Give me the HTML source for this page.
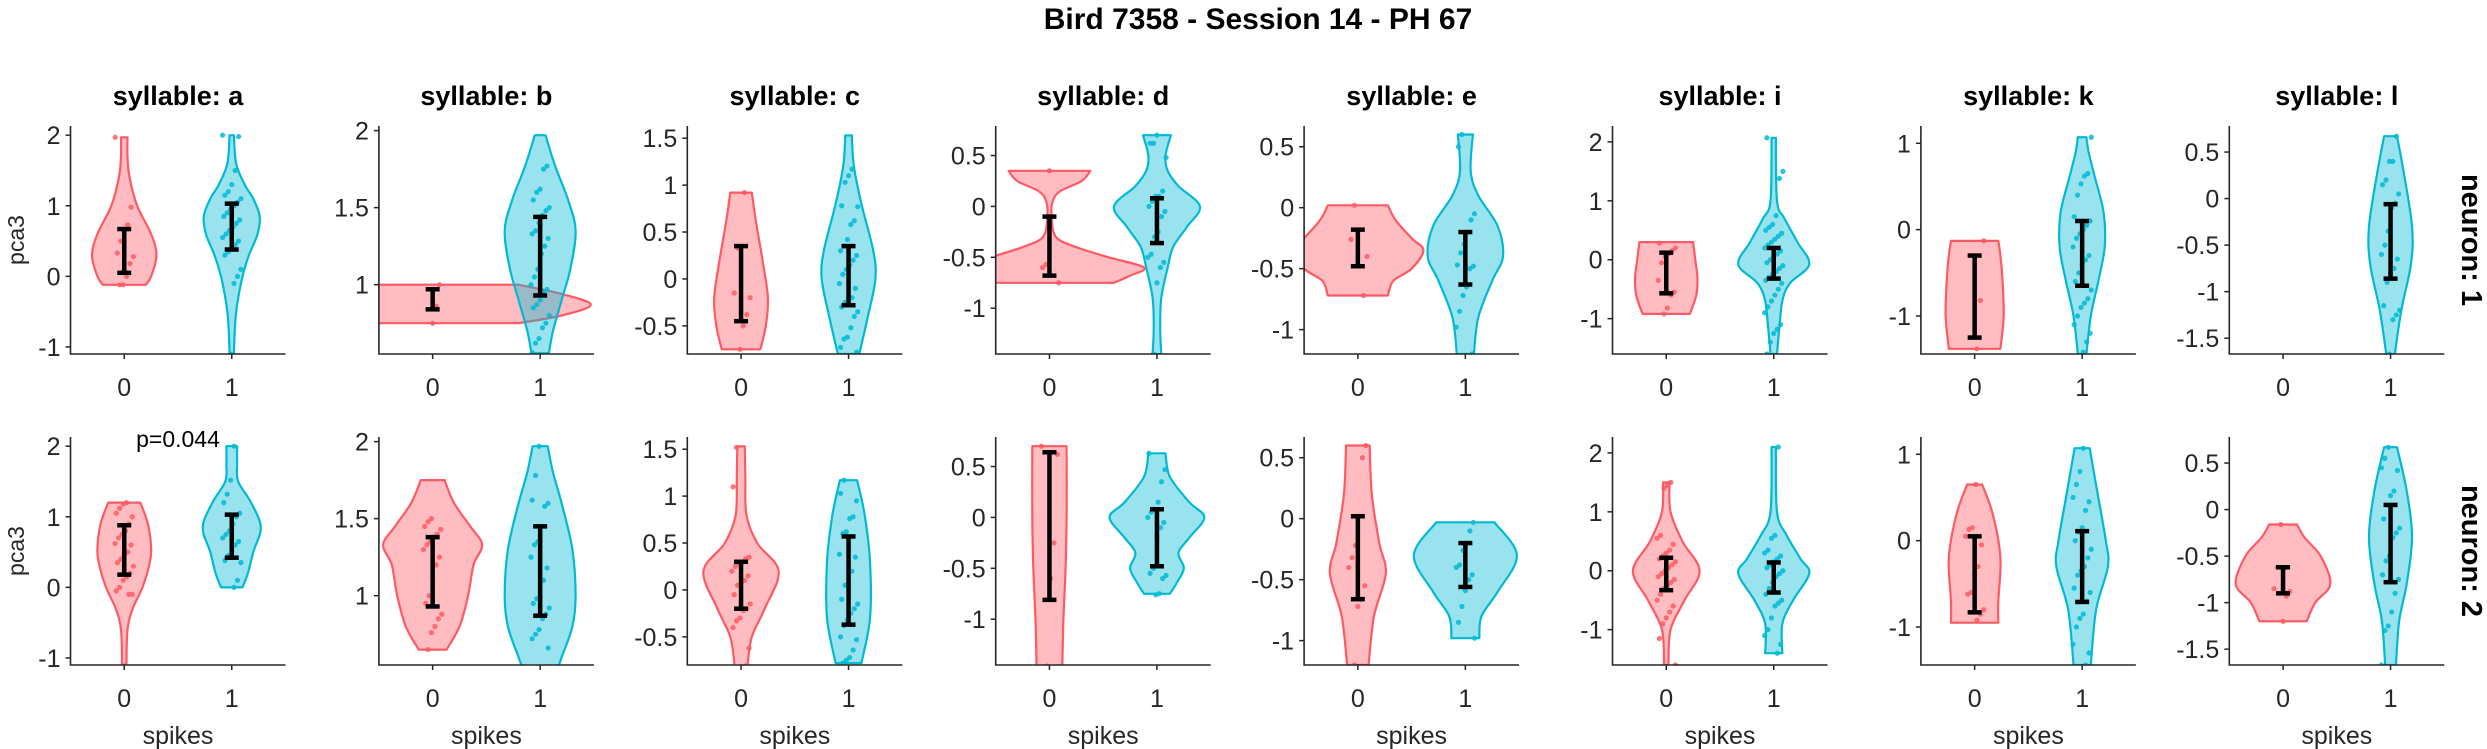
<!DOCTYPE html>
<html><head><meta charset="utf-8"><style>
html,body{margin:0;padding:0;background:#fff;}
svg{display:block;}
text{font-family:"Liberation Sans",Arial,sans-serif;fill:#262626;}
</style></head>
<body>
<svg id="fig" width="2487" height="749" viewBox="0 0 2487 749" xmlns="http://www.w3.org/2000/svg">
<text x="1258" y="29" text-anchor="middle" font-size="30" font-weight="bold" style="fill:#000">Bird 7358 - Session 14 - PH 67</text>
</svg>
<script>
const syllables = ['a','b','c','d','e','i','k','l'];
const neurons = ['1','2'];
const yLims = [[-1.1,2.13],[0.55,2.03],[-0.8,1.63],[-1.45,0.79],[-1.2,0.67],[-1.6,2.27],[-1.44,1.2],[-1.67,0.78]];
const yTicks = [[-1,0,1,2],[1,1.5,2],[-0.5,0,0.5,1,1.5],[-1,-0.5,0,0.5],[-1,-0.5,0,0.5],[-1,0,1,2],[-1,0,1],[-1.5,-1,-0.5,0,0.5]];
const xTickLabels = ['0','1'];
// density profiles: [value, half-width in x units]
const redProfiles = [
 [[-0.12,0.2],[0,0.25],[0.3,0.3],[0.6,0.25],[1.0,0.12],[1.4,0.05],[1.7,0.03],[1.97,0.03]],
 [[0.75,0.8],[0.8,1.2],[0.87,1.47],[0.94,1.2],[1.0,0.8]],
 [[-0.75,0.18],[-0.5,0.23],[-0.2,0.25],[0.2,0.2],[0.6,0.14],[0.92,0.1]],
 [[-0.75,0.6],[-0.68,0.75],[-0.6,0.88],[-0.5,0.55],[-0.4,0.25],[-0.3,0.06],[-0.1,0.02],[0.05,0.03],[0.15,0.1],[0.25,0.3],[0.35,0.38]],
 [[-0.72,0.28],[-0.6,0.33],[-0.5,0.5],[-0.35,0.61],[-0.25,0.5],[-0.1,0.35],[0.02,0.28]],
 [[-0.92,0.22],[-0.6,0.28],[-0.3,0.29],[0,0.27],[0.3,0.25]],
 [[-1.38,0.24],[-1.0,0.27],[-0.6,0.26],[-0.3,0.24],[-0.13,0.22]],
 null,
 [[-1.11,0.02],[-0.6,0.03],[-0.3,0.08],[0,0.17],[0.3,0.23],[0.55,0.25],[0.9,0.22],[1.2,0.15]],
 [[0.65,0.13],[0.8,0.25],[1.0,0.33],[1.2,0.38],[1.33,0.46],[1.45,0.35],[1.6,0.2],[1.75,0.11]],
 [[-0.81,0.06],[-0.5,0.1],[-0.2,0.22],[0.2,0.35],[0.5,0.15],[0.8,0.05],[1.2,0.04],[1.53,0.035]],
 [[-1.46,0.12],[-1.0,0.13],[-0.5,0.15],[0,0.16],[0.7,0.16]],
 [[-1.2,0.1],[-0.8,0.15],[-0.45,0.26],[-0.2,0.2],[0.2,0.13],[0.6,0.11]],
 [[-1.6,0.02],[-1.0,0.04],[-0.5,0.17],[0,0.31],[0.5,0.15],[1.0,0.04],[1.5,0.03]],
 [[-0.95,0.22],[-0.7,0.22],[-0.2,0.24],[0.3,0.17],[0.65,0.07]],
 [[-1.2,0.22],[-1.0,0.3],[-0.8,0.44],[-0.5,0.35],[-0.3,0.2],[-0.16,0.13]]
];
const cyanProfiles = [
 [[-1.1,0.02],[-0.7,0.03],[-0.4,0.05],[0,0.1],[0.3,0.16],[0.6,0.24],[0.85,0.26],[1.1,0.2],[1.3,0.12],[1.6,0.04],[2.0,0.02]],
 [[0.555,0.08],[0.7,0.12],[0.9,0.2],[1.1,0.28],[1.35,0.33],[1.55,0.26],[1.75,0.15],[1.9,0.08],[1.97,0.05]],
 [[-0.8,0.1],[-0.4,0.18],[0,0.25],[0.3,0.23],[0.8,0.12],[1.2,0.05],[1.53,0.03]],
 [[-1.45,0.04],[-1.2,0.03],[-0.9,0.04],[-0.6,0.1],[-0.4,0.15],[-0.2,0.28],[0,0.4],[0.2,0.2],[0.35,0.1],[0.5,0.08],[0.7,0.13]],
 [[-1.2,0.08],[-0.9,0.12],[-0.6,0.25],[-0.4,0.35],[-0.15,0.3],[0.1,0.12],[0.3,0.05],[0.6,0.07]],
 [[-1.6,0.03],[-1.2,0.05],[-0.7,0.08],[-0.4,0.15],[-0.08,0.33],[0.3,0.22],[0.7,0.1],[1.0,0.03],[2.07,0.02]],
 [[-1.44,0.04],[-1.0,0.08],[-0.6,0.15],[-0.2,0.21],[0.2,0.2],[0.6,0.12],[0.9,0.06],[1.07,0.04]],
 [[-1.67,0.04],[-1.2,0.1],[-0.7,0.19],[-0.3,0.2],[0.3,0.12],[0.67,0.06]],
 [[0,0.1],[0.2,0.15],[0.5,0.2],[0.85,0.27],[1.2,0.18],[1.5,0.06],[1.75,0.05],[2.0,0.05]],
 [[0.54,0.17],[0.6,0.2],[0.8,0.3],[1.0,0.33],[1.3,0.3],[1.6,0.2],[1.8,0.12],[1.97,0.07]],
 [[-0.78,0.12],[-0.3,0.2],[0.3,0.2],[0.8,0.15],[1.17,0.08]],
 [[-0.75,0.12],[-0.65,0.18],[-0.5,0.25],[-0.35,0.2],[-0.2,0.3],[0,0.44],[0.15,0.3],[0.4,0.12],[0.63,0.08]],
 [[-0.98,0.13],[-0.8,0.15],[-0.6,0.3],[-0.3,0.48],[-0.03,0.27]],
 [[-1.4,0.08],[-0.9,0.08],[-0.5,0.18],[-0.05,0.33],[0.2,0.25],[0.6,0.12],[1.0,0.03],[2.1,0.02]],
 [[-1.44,0.08],[-0.8,0.13],[-0.3,0.24],[0,0.22],[0.5,0.15],[1.07,0.07]],
 [[-1.67,0.05],[-1.2,0.08],[-0.8,0.15],[-0.3,0.2],[0.2,0.15],[0.67,0.06]]
];
const redErr = [[0.05,0.67],[0.84,0.97],[-0.45,0.35],[-0.68,-0.1],[-0.48,-0.18],[-0.57,0.12],[-1.25,-0.3],null,
 [0.18,0.88],[0.93,1.38],[-0.2,0.3],[-0.81,0.64],[-0.66,0.02],[-0.33,0.22],[-0.83,0.05],[-0.9,-0.62]];
const cyanErr = [[0.38,1.03],[0.93,1.44],[-0.28,0.35],[-0.36,0.08],[-0.63,-0.2],[-0.32,0.2],[-0.65,0.1],[-0.86,-0.06],
 [0.42,1.03],[0.87,1.45],[-0.37,0.57],[-0.48,0.08],[-0.56,-0.2],[-0.37,0.14],[-0.71,0.11],[-0.78,0.05]];
const redDots = [
 [1.97,0.98,0.73,0.5,0.5,0.33,0.28,0.18,0.0,-0.12,-0.12],
 [1.0,0.86,0.75],
 [0.92,0.35,0.33,-0.15,-0.2,-0.38,-0.5,-0.75],
 [0.35,-0.57,-0.6,-0.75],
 [0.02,-0.26,-0.4,-0.72],
 [0.28,0.2,0.15,0.1,0.05,-0.05,-0.35,-0.55,-0.6,-0.82,-0.92],
 [-0.13,-0.82,-1.38],
 [],
 [1.2,1.18,1.12,1.05,1.0,0.9,0.8,0.75,0.7,0.62,0.6,0.5,0.45,0.4,0.35,0.3,0.2,0.15,0.1,0.0,-0.05,-0.1,-0.1,-1.11],
 [1.5,1.48,1.45,1.43,1.4,1.38,1.35,1.33,1.3,1.25,1.2,1.12,1.0,0.95,0.88,0.85,0.8,0.76,0.65],
 [1.52,1.1,0.35,0.33,0.3,0.28,0.25,0.2,0.15,0.1,0.07,0.05,-0.05,-0.15,-0.2,-0.22,-0.3,-0.33,-0.4,-0.62,-0.81],
 [0.7,0.62,-0.25,-0.6,-1.46],
 [0.6,0.5,0.02,-0.22,-0.32,-0.4,-0.55,-0.66,-0.72,-1.2],
 [1.5,1.45,1.4,0.6,0.55,0.45,0.35,0.3,0.25,0.2,0.15,0.1,0.05,0,-0.05,-0.1,-0.15,-0.2,-0.25,-0.3,-0.4,-0.5,-0.6,-0.7,-0.8,-0.9,-1.15,-1.6],
 [0.65,0.15,0.13,0.05,-0.05,-0.3,-0.4,-0.6,-0.62,-0.8,-0.85,-0.92],
 [-0.16,-0.62,-0.85,-0.88,-0.93,-1.2]
];
const cyanDots = [
 [2.0,1.98,1.5,1.3,1.2,1.15,1.1,1.05,1.0,0.95,0.9,0.85,0.8,0.75,0.7,0.65,0.6,0.55,0.5,0.45,0.4,0.35,0.3,0.1,0.0,-0.1,-1.1],
 [1.77,1.75,1.62,1.6,1.55,1.5,1.48,1.45,1.4,1.35,1.33,1.3,1.25,1.2,1.1,1.05,1.0,0.97,0.95,0.9,0.87,0.85,0.8,0.75,0.72,0.65,0.62,0.56],
 [1.17,1.1,1.03,0.78,0.77,0.62,0.58,0.42,0.35,0.3,0.25,0.2,0.15,0.1,0.05,-0.05,-0.1,-0.2,-0.2,-0.25,-0.3,-0.35,-0.4,-0.52,-0.62,-0.64,-0.73,-0.78],
 [0.7,0.62,0.62,0.48,0.15,0.1,0.1,0.05,0,-0.05,-0.1,-0.25,-0.3,-0.47,-0.5,-0.55,-0.6,-0.75,-1.45],
 [0.6,0.5,-0.05,-0.1,-0.2,-0.3,-0.37,-0.47,-0.48,-0.5,-0.65,-0.72,-0.85,-0.98,-1.2],
 [2.07,1.5,1.38,0.75,0.6,0.55,0.5,0.45,0.4,0.35,0.3,0.25,0.2,0.15,0.1,0.05,0,-0.05,-0.1,-0.15,-0.2,-0.25,-0.3,-0.35,-0.4,-0.5,-0.6,-0.7,-0.8,-0.9,-1.1,-1.18,-1.25,-1.4,-1.6],
 [1.07,0.65,0.62,0.53,0.4,0.15,0.1,0.05,0,-0.05,-0.1,-0.2,-0.3,-0.35,-0.4,-0.5,-0.6,-0.7,-0.8,-0.85,-0.9,-1.0,-1.1,-1.2,-1.3,-1.42],
 [0.67,0.4,0.4,0.2,0.15,0.05,-0.05,-0.1,-0.35,-0.5,-0.6,-0.65,-0.75,-0.8,-0.9,-1.15,-1.2,-1.25,-1.3,-1.67],
 [2.0,1.52,1.32,1.2,1.05,1.0,0.9,0.8,0.75,0.7,0.65,0.6,0.5,0.45,0.38,0.35,0.1,0.0],
 [1.97,1.78,1.62,1.6,1.58,1.45,1.35,1.33,1.25,1.18,1.1,1.0,0.98,0.95,0.92,0.88,0.85,0.78,0.75,0.72,0.66,0.54],
 [1.17,1.03,0.95,0.78,0.76,0.62,0.6,0.38,0.35,0.2,0.08,0.05,-0.1,-0.15,-0.2,-0.25,-0.32,-0.38,-0.5,-0.53,-0.64,-0.72,-0.75,-0.78],
 [0.63,0.47,0.35,0.15,0.08,0.05,0,-0.05,-0.1,-0.2,-0.5,-0.55,-0.57,-0.6,-0.75,-0.76],
 [-0.03,-0.1,-0.2,-0.26,-0.38,-0.4,-0.46,-0.5,-0.59,-0.72,-0.85,-0.98],
 [2.1,0.6,0.55,0.35,0.3,0.25,0.2,0.15,0.1,0.05,0,-0.05,-0.1,-0.2,-0.3,-0.4,-0.5,-0.55,-0.6,-0.8,-1.0,-1.1,-1.25,-1.4],
 [1.07,0.8,0.65,0.5,0.45,0.35,0.15,0.1,0,-0.1,-0.2,-0.3,-0.35,-0.4,-0.55,-0.6,-0.7,-0.85,-0.9,-1.0,-1.2,-1.3,-1.44],
 [0.67,0.55,0.45,0.42,0.2,0.15,0.05,-0.1,-0.2,-0.25,-0.3,-0.5,-0.55,-0.7,-0.75,-0.9,-1.1,-1.25,-1.3,-1.67]
];
const pValueText = 'p=0.044';

const NS = 'http://www.w3.org/2000/svg';
const svg = document.getElementById('fig');
const AX_LEFT0 = 70.5, AX_PITCH = 308.4, AX_W = 215, AX_H = 228;
const ROW_TOP = [126, 437];
const RED = '#FF5A64', CYAN = '#00BAD4', AXC = '#262626';
function mk(tag, attrs, parent) {
  const e = document.createElementNS(NS, tag);
  for (const k in attrs) e.setAttribute(k, attrs[k]);
  (parent || svg).appendChild(e);
  return e;
}
function catmull(pts) {
  let d = '';
  for (let i = 0; i < pts.length - 1; i++) {
    const p0 = pts[Math.max(i - 1, 0)], p1 = pts[i], p2 = pts[i + 1], p3 = pts[Math.min(i + 2, pts.length - 1)];
    const c1 = [p1[0] + (p2[0] - p0[0]) / 6, p1[1] + (p2[1] - p0[1]) / 6];
    const c2 = [p2[0] - (p3[0] - p1[0]) / 6, p2[1] - (p3[1] - p1[1]) / 6];
    d += ` C${c1[0].toFixed(1)},${c1[1].toFixed(1)} ${c2[0].toFixed(1)},${c2[1].toFixed(1)} ${p2[0].toFixed(1)},${p2[1].toFixed(1)}`;
  }
  return d;
}
function violinPath(profile, xs, ys, cx) {
  const right = profile.map(p => [xs(cx + p[1]), ys(p[0])]);
  const left = profile.slice().reverse().map(p => [xs(cx - p[1]), ys(p[0])]);
  let d = `M${right[0][0].toFixed(1)},${right[0][1].toFixed(1)}` + catmull(right);
  d += ` L${left[0][0].toFixed(1)},${left[0][1].toFixed(1)}` + catmull(left) + ' Z';
  return d;
}

for (let r = 0; r < 2; r++) {
  for (let c = 0; c < 8; c++) {
    const idx = r * 8 + c;
    const L = AX_LEFT0 + c * AX_PITCH, T = ROW_TOP[r], B = T + AX_H;
    const lim = yLims[c];
    const xs = v => L + (v + 0.5) * (AX_W / 2);
    const ys = v => B - (v - lim[0]) / (lim[1] - lim[0]) * AX_H;
    const g = mk('g', {});
    
    
    const cp = mk('clipPath', {id: 'clip' + idx}, g);
    mk('rect', {x: L, y: T, width: AX_W, height: AX_H}, cp);
    const plot = mk('g', {'clip-path': `url(#clip${idx})`}, g);
    const groups = [[redProfiles[idx], RED, 0, redDots[idx], redErr[idx], 'spikes-0'], [cyanProfiles[idx], CYAN, 1, cyanDots[idx], cyanErr[idx], 'spikes-1']];
    groups.forEach(([prof, col, cx, dots, err, nm]) => {
      if (!prof) return;
      const v = mk('path', {d: violinPath(prof, xs, ys, cx), fill: col, 'fill-opacity': 0.4, stroke: col, 'stroke-width': 2.2, 'stroke-linejoin': 'round'}, plot);
      
      
    });
    groups.forEach(([prof, col, cx, dots, err, nm]) => {
      if (!dots) return;
      dots.forEach((val, i) => {
        const jit = (((i * 7919 + idx * 31) % 17) / 16 - 0.5) * 0.17;
        const d = mk('circle', {cx: xs(cx + jit), cy: ys(val), r: 2.6, fill: col, 'fill-opacity': 0.85}, plot);
        
        
      });
    });
    groups.forEach(([prof, col, cx, dots, err, nm]) => {
      if (!err) return;
      const eg = mk('g', {stroke: '#000', 'stroke-width': 4.5, fill: 'none'}, g);
      
      
      const x = xs(cx);
      mk('line', {x1: x, x2: x, y1: ys(err[0]), y2: ys(err[1])}, eg);
      mk('line', {x1: x - 7, x2: x + 7, y1: ys(err[0]), y2: ys(err[0])}, eg);
      mk('line', {x1: x - 7, x2: x + 7, y1: ys(err[1]), y2: ys(err[1])}, eg);
    });
    // axes
    const ax = mk('path', {d: `M${L},${T} L${L},${B} L${L + AX_W},${B}`, stroke: AXC, 'stroke-width': 1.6, fill: 'none'}, g);
    
    
    yTicks[c].forEach(t => {
      const y = ys(t);
      mk('line', {x1: L - 5, x2: L, y1: y, y2: y, stroke: AXC, 'stroke-width': 1.5}, g);
      const tl = mk('text', {x: L - 10, y: y + 9, 'text-anchor': 'end', 'font-size': 25}, g);
      tl.textContent = String(t);
      
      
    });
    xTickLabels.forEach((lab, i) => {
      const x = xs(i);
      mk('line', {x1: x, x2: x, y1: B, y2: B + 5, stroke: AXC, 'stroke-width': 1.5}, g);
      const tl = mk('text', {x: x, y: B + 42, 'text-anchor': 'middle', 'font-size': 25}, g);
      tl.textContent = lab;
      
      
    });
    if (r === 0) {
      const st = mk('text', {x: L + AX_W / 2, y: 105, 'text-anchor': 'middle', 'font-size': 27, 'font-weight': 'bold', style: 'fill:#000'}, g);
      st.textContent = 'syllable: ' + syllables[c];
      
      
    } else {
      const xl = mk('text', {x: L + AX_W / 2, y: 744, 'text-anchor': 'middle', 'font-size': 25}, g);
      xl.textContent = 'spikes';
      
      
    }
    if (c === 0) {
      const yc = T + AX_H / 2;
      const yl = mk('text', {x: 24, y: yc, 'text-anchor': 'middle', 'font-size': 23, transform: `rotate(-90 24 ${yc})`}, g);
      yl.textContent = 'pca3';
      
      
    }
    if (c === 7) {
      const yc = T + AX_H / 2;
      const nl = mk('text', {x: 2462, y: yc, 'text-anchor': 'middle', 'font-size': 29, 'font-weight': 'bold', style: 'fill:#000', transform: `rotate(90 2462 ${yc})`}, g);
      nl.textContent = 'neuron: ' + neurons[r];
      
      
    }
    if (idx === 8) {
      const pt = mk('text', {x: 178, y: 447, 'text-anchor': 'middle', 'font-size': 23, style: 'fill:#000'}, g);
      pt.textContent = pValueText;
      
      
    }
  }
}
</script>
</body></html>
